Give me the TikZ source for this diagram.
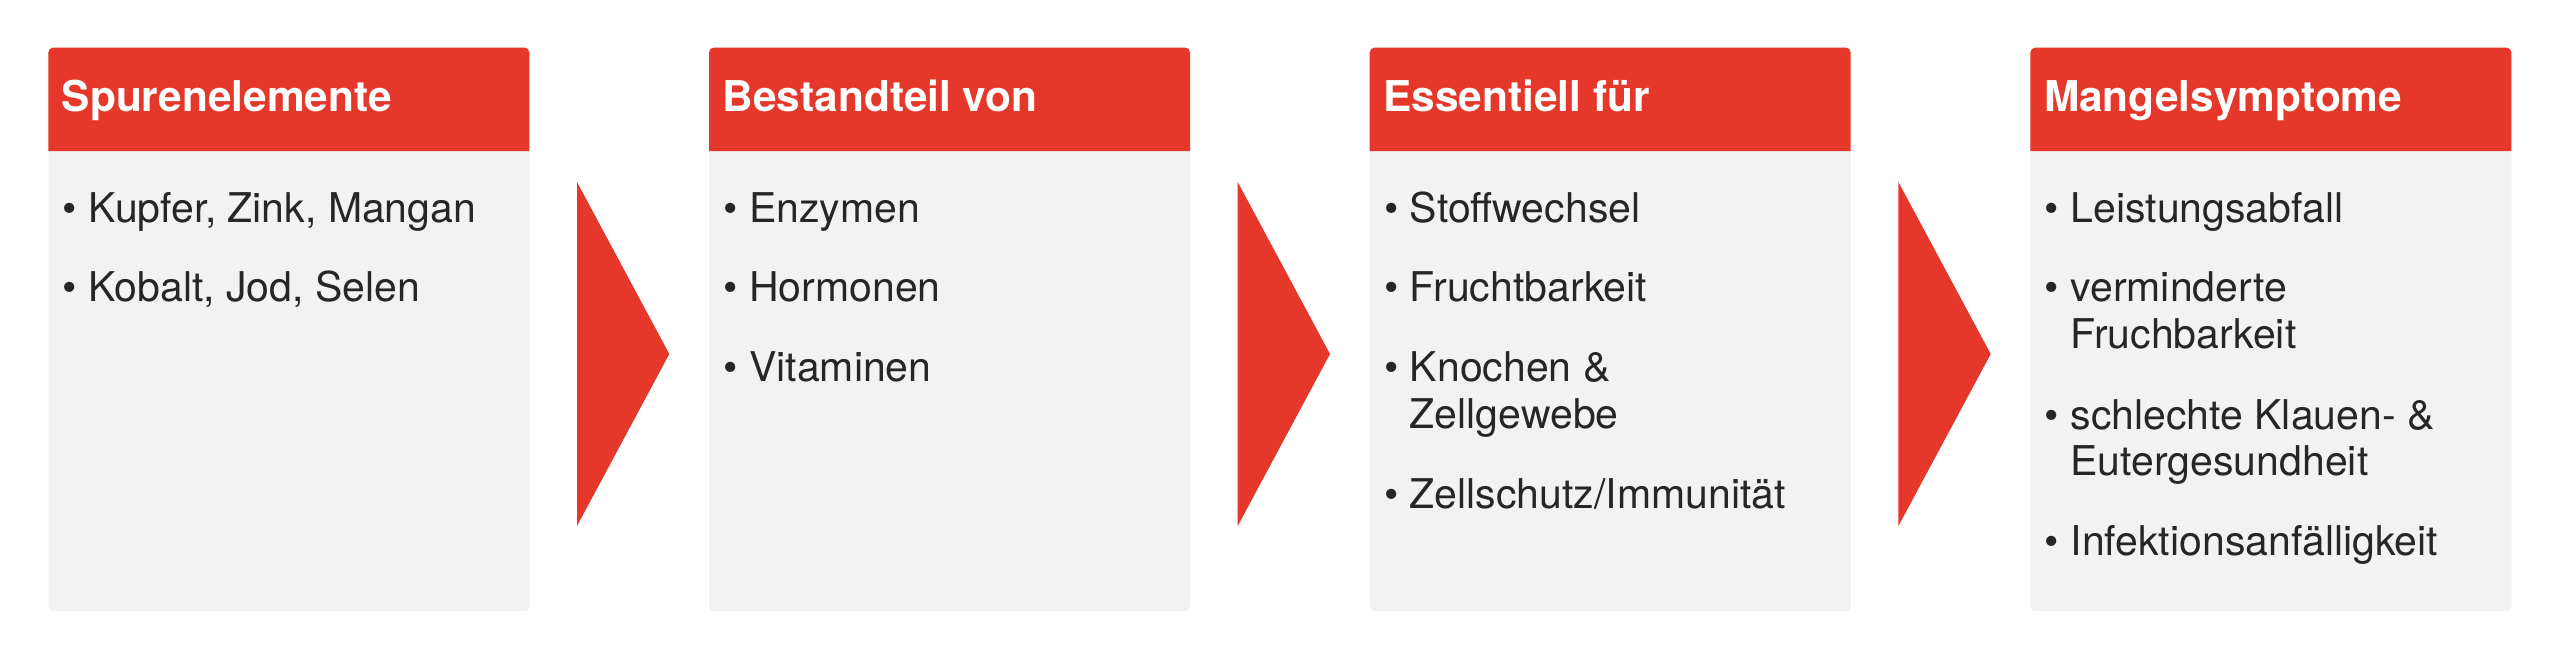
\documentclass[tikz,border=0pt]{standalone}
\usepackage{fontspec}
\setmainfont{TeX Gyre Heros}
\definecolor{hdr}{HTML}{E5382A}
\definecolor{bodybg}{HTML}{F2F2F2}
\definecolor{txt}{HTML}{262626}
\begin{document}
\begin{tikzpicture}[x=1pt,y=-1pt,
  boxbody/.style={fill=bodybg,draw=none,rounded corners=5pt,minimum width=481pt,minimum height=563.5pt,anchor=north west,inner sep=0pt},
  hdrtext/.style={anchor=base west,inner sep=0pt,text=white,font=\fontsize{42.4}{46.6}\selectfont\bfseries},
  itemtext/.style={anchor=base west,inner sep=0pt,text=txt,font=\fontsize{41}{46.6}\selectfont},
  bul/.style={anchor=base west,inner sep=0pt,text=txt,font=\fontsize{41}{46.6}\selectfont},
  chevron/.style={fill=hdr,draw=none}]
\useasboundingbox (0,0) rectangle (2560,659);
\fill[white] (0,0) rectangle (2560,659);

% boxes
\node[boxbody] (b1) at (48.3,47.5) {};
\node[boxbody] (b2) at (709.0,47.5) {};
\node[boxbody] (b3) at (1369.7,47.5) {};
\node[boxbody] (b4) at (2030.4,47.5) {};

% headers
\foreach \bx in {48.3,709.0,1369.7,2030.4}{
  \fill[hdr] (\bx,151) {[rounded corners=5pt] -- (\bx,47.5) -- (\bx+481,47.5)} -- (\bx+481,151) -- cycle;
}
\node[hdrtext] (h1) at (61.7,111.5) {Spurenelemente};
\node[hdrtext] (h2) at (722.4,111.5) {Bestandteil von};
\node[hdrtext] (h3) at (1383.1,111.5) {Essentiell für};
\node[hdrtext] (h4) at (2043.8,111.5) {Mangelsymptome};

% chevrons
\foreach \bx in {48.3,709.0,1369.7}{
  \fill[chevron] (\bx+528.7,182) -- (\bx+621,354) -- (\bx+528.7,526) -- cycle;
}

% box 1
\node[bul] (b1u1) at (62.5,222.3) {•};
\node[itemtext] (b1t1) at (88.3,222.3) {Kupfer, Zink, Mangan};
\node[bul] (b1u2) at (62.5,301.7) {•};
\node[itemtext] (b1t2) at (88.3,301.7) {Kobalt, Jod, Selen};

% box 2
\node[bul] (b2u1) at (723.2,222.3) {•};
\node[itemtext] (b2t1) at (749.0,222.3) {Enzymen};
\node[bul] (b2u2) at (723.2,301.7) {•};
\node[itemtext] (b2t2) at (749.0,301.7) {Hormonen};
\node[bul] (b2u3) at (723.2,381.5) {•};
\node[itemtext] (b2t3) at (749.0,381.5) {Vitaminen};

% box 3
\node[bul] (b3u1) at (1383.9,222.3) {•};
\node[itemtext] (b3t1) at (1409.7,222.3) {Stoffwechsel};
\node[bul] (b3u2) at (1383.9,301.7) {•};
\node[itemtext] (b3t2) at (1409.7,301.7) {Fruchtbarkeit};
\node[bul] (b3u3) at (1383.9,381.5) {•};
\node[itemtext] (b3t3) at (1409.7,381.5) {Knochen \&};
\node[itemtext] (b3t3b) at (1409.7,428.1) {Zellgewebe};
\node[bul] (b3u4) at (1383.9,508.5) {•};
\node[itemtext] (b3t4) at (1409.7,508.5) {Zellschutz/Immunität};

% box 4
\node[bul] (b4u1) at (2044.6,222.3) {•};
\node[itemtext] (b4t1) at (2070.4,222.3) {Leistungsabfall};
\node[bul] (b4u2) at (2044.6,301.7) {•};
\node[itemtext] (b4t2) at (2070.4,301.7) {verminderte};
\node[itemtext] (b4t2b) at (2070.4,348.3) {Fruchbarkeit};
\node[bul] (b4u3) at (2044.6,429.0) {•};
\node[itemtext] (b4t3) at (2070.4,429.0) {schlechte Klauen- \&};
\node[itemtext] (b4t3b) at (2070.4,475.6) {Eutergesundheit};
\node[bul] (b4u4) at (2044.6,555.5) {•};
\node[itemtext] (b4t4) at (2070.4,555.5) {Infektionsanfälligkeit};
\end{tikzpicture}
\end{document}
